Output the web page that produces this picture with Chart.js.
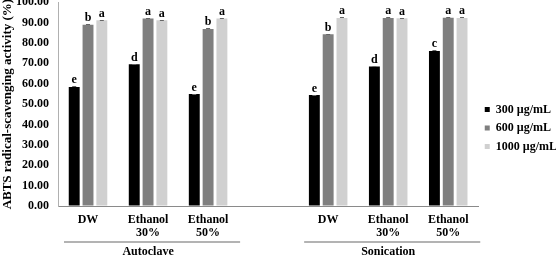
<!DOCTYPE html>
<html>
<head>
<meta charset="utf-8">
<script src="https://cdn.jsdelivr.net/npm/chart.js@4/dist/chart.umd.min.js"></script>
<style>
  html, body { margin: 0; padding: 0; background: #fff; overflow: hidden; width: 556px; height: 256px; }
  #wrap { position: absolute; left: 0; top: -14px; width: 556px; height: 270px; }
</style>
</head>
<body>
<div id="wrap"><canvas id="chart"></canvas></div>
<script>
// ABTS radical-scavenging activity by extraction method / solvent / concentration.
// The 4th category is an empty spacer between the Autoclave and Sonication groups.
const CATEGORIES = ["DW", ["Ethanol", "30%"], ["Ethanol", "50%"], "", "DW", ["Ethanol", "30%"], ["Ethanol", "50%"]];
const GROUPS = [{ label: "Autoclave", from: 0, to: 2 }, { label: "Sonication", from: 4, to: 6 }];
const SERIES = ["300 µg/mL", "600 µg/mL", "1000 µg/mL"];
const COLORS = ["#000000", "#7f7f7f", "#d0d0d0"];

const V300 = [58.4, 69.6, 54.9, null, 54.5, 68.4, 76.1];
const V600 = [88.9, 92.0, 86.9, null, 84.3, 92.3, 92.4];
const V1000 = [91.2, 91.1, 92.0, null, 92.2, 92.1, 92.2];

const ERR300 = [0.3, 0.3, 0.2, null, 0.2, 0.3, 0.3];
const ERR600 = [0.4, 0.3, 0.4, null, 0.3, 0.4, 0.3];
const ERR1000 = [0.3, 0.3, 0.3, null, 0.3, 0.3, 0.3];

const LET300 = ["e", "d", "e", "", "e", "d", "c"];
const LET600 = ["b", "a", "b", "", "b", "a", "a"];
const LET1000 = ["a", "a", "a", "", "a", "a", "a"];

const Y_TICKS = [0, 10, 20, 30, 40, 50, 60, 70, 80, 90, 100];

const VALUES = [V300, V600, V1000];
const ERRORS = [ERR300, ERR600, ERR1000];
const LETTERS = [LET300, LET600, LET1000];

const FONT = "'Liberation Serif', 'Times New Roman', serif";

// error caps, significance letters and the Autoclave / Sonication brackets
const annotations = {
  id: "annotations",
  afterDatasetsDraw(chart) {
    const { ctx } = chart;
    const y = chart.scales.y, x = chart.scales.x;
    ctx.save();
    ctx.font = `bold 12px ${FONT}`;
    ctx.textAlign = "center";
    ctx.textBaseline = "alphabetic";
    chart.data.datasets.forEach((ds, di) => {
      chart.getDatasetMeta(di).data.forEach((bar, i) => {
        const v = ds.data[i];
        if (v == null) return;
        const e = ERRORS[di][i];
        const top = y.getPixelForValue(v + e);
        ctx.strokeStyle = "#666";
        ctx.lineWidth = 1;
        ctx.beginPath();
        ctx.moveTo(bar.x - 2, Math.round(top) + 0.5);
        ctx.lineTo(bar.x + 2, Math.round(top) + 0.5);
        ctx.stroke();
        ctx.fillStyle = "#000";
        ctx.fillText(LETTERS[di][i], bar.x, top - 3);
      });
    });
    const w = x.getPixelForValue(1) - x.getPixelForValue(0);
    GROUPS.forEach((g) => {
      const x0 = x.getPixelForValue(g.from) - w / 2 + 6;
      const x1 = x.getPixelForValue(g.to) + w / 2 + 2;
      const ly = x.top + 36;
      ctx.strokeStyle = "#9a9a9a";
      ctx.lineWidth = 1.5;
      ctx.beginPath();
      ctx.moveTo(x0, ly);
      ctx.lineTo(x1, ly);
      ctx.stroke();
      ctx.fillStyle = "#000";
      ctx.textBaseline = "middle";
      ctx.fillText(g.label, (x.getPixelForValue(g.from) + x.getPixelForValue(g.to)) / 2, x.top + 46);
    });
    ctx.restore();
  },
};

new Chart(document.getElementById("chart"), {
  type: "bar",
  data: {
    labels: CATEGORIES,
    datasets: SERIES.map((name, i) => ({
      label: name,
      data: VALUES[i],
      backgroundColor: COLORS[i],
      borderWidth: 0,
      categoryPercentage: 0.69,
      barPercentage: 0.79,
    })),
  },
  options: {
    responsive: true,
    maintainAspectRatio: false,
    animation: false,
    layout: { padding: { top: 14, right: -11, bottom: 0, left: 0 } },
    plugins: {
      legend: {
        position: "right",
        labels: {
          boxWidth: 5, boxHeight: 5, padding: 6.5, color: "#000",
          font: { family: FONT, size: 12, weight: "bold" },
        },
      },
      tooltip: { enabled: false },
    },
    scales: {
      x: {
        grid: { display: false, drawTicks: false },
        border: { display: true, color: "#8a8a8a", width: 1 },
        ticks: { color: "#000", padding: 7, maxRotation: 0, autoSkip: false, font: { family: FONT, size: 12, weight: "bold", lineHeight: 1.1 } },
        afterFit: (s) => { s.height = 50; },
      },
      y: {
        min: 0, max: 100,
        afterBuildTicks: (s) => { s.ticks = Y_TICKS.map((v) => ({ value: v })); },
        grid: { drawOnChartArea: false, drawTicks: false },
        border: { display: true, color: "#b0b0b0", width: 1 },
        ticks: { color: "#000", padding: 9, callback: (v) => Number(v).toFixed(2), font: { family: FONT, size: 12, weight: "bold" } },
        title: { display: true, text: "ABTS radical-scavenging activity (%)", color: "#000", padding: 0, font: { family: FONT, size: 13, weight: "bold" } },
        afterFit: (s) => { s.width = 58; },
      },
    },
  },
  plugins: [annotations],
});
</script>
</body>
</html>
